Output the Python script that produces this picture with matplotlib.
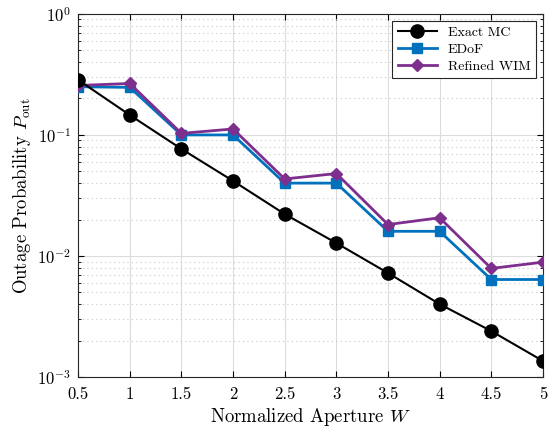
import numpy as np
import matplotlib
matplotlib.use("Agg")
import matplotlib.pyplot as plt
from matplotlib.ticker import LogLocator, NullFormatter

plt.rcParams['font.family'] = 'serif'
plt.rcParams['font.serif'] = ['cmr10', 'DejaVu Serif']
plt.rcParams['mathtext.fontset'] = 'cm'
plt.rcParams['axes.formatter.use_mathtext'] = True

# data
W = [0.5, 1, 1.5, 2, 2.5, 3, 3.5, 4, 4.5, 5]
p_mc = [0.285, 0.146, 0.0766, 0.0417, 0.0222, 0.0128, 0.00724, 0.00401, 0.0024, 0.00136]
p_edof = [0.25, 0.247, 0.1, 0.1, 0.04, 0.04, 0.016, 0.016, 0.0064, 0.0064]
p_wim = [0.256, 0.266, 0.103, 0.112, 0.0433, 0.048, 0.0182, 0.0207, 0.0079, 0.0089]
xticks = [0.5, 1, 1.5, 2, 2.5, 3, 3.5, 4, 4.5, 5]
xticklabels = ['0.5', '1', '1.5', '2', '2.5', '3', '3.5', '4', '4.5', '5']

fig = plt.figure(figsize=(5.58, 4.32), dpi=100)
ax = fig.add_axes([0.14, 0.127, 0.833, 0.841])

ax.semilogy(W, p_mc, '-o', color='black', lw=1.5, ms=9.5, label='Exact MC', zorder=5)
ax.semilogy(W, p_edof, '-s', color='#0072BD', lw=2, ms=6.5, label='EDoF', zorder=3)
ax.semilogy(W, p_wim, '-D', color='#7E2F8E', lw=2, ms=6.5, label='Refined WIM', zorder=4)

ax.set_xlim(0.5, 5)
ax.set_ylim(1e-3, 1)
ax.set_xticks(xticks)
ax.set_xticklabels(xticklabels)
ax.yaxis.set_major_locator(LogLocator(base=10, numticks=10))
ax.yaxis.set_minor_locator(LogLocator(base=10, subs=np.arange(2, 10), numticks=20))
ax.yaxis.set_minor_formatter(NullFormatter())

ax.grid(True, which='major', color='#dcdcdc', lw=0.8, ls='-')
ax.grid(True, which='minor', axis='y', color='#c8c8c8', lw=0.8, ls=(0, (1, 3)))
ax.set_axisbelow(True)
ax.tick_params(which='both', direction='in', top=True, right=True, labelsize=12)
ax.tick_params(axis='x', pad=7)
ax.tick_params(axis='y', pad=5)
ax.tick_params(which='major', length=4)
ax.tick_params(which='minor', length=2)
for s in ax.spines.values():
    s.set_color('#262626')
    s.set_linewidth(0.8)

ax.set_xlabel(r'Normalized Aperture $W$', fontsize=13.5, labelpad=3)
ax.set_ylabel(r'Outage Probability $P_{\mathrm{out}}$', fontsize=13.5, labelpad=3)

leg = ax.legend(loc='upper right', fontsize=10, fancybox=False, framealpha=1,
                edgecolor='#262626', borderaxespad=0.5, handlelength=2.8,
                labelspacing=0.3, borderpad=0.4)
leg.get_frame().set_linewidth(0.8)

fig.savefig('out.png', dpi=100)
